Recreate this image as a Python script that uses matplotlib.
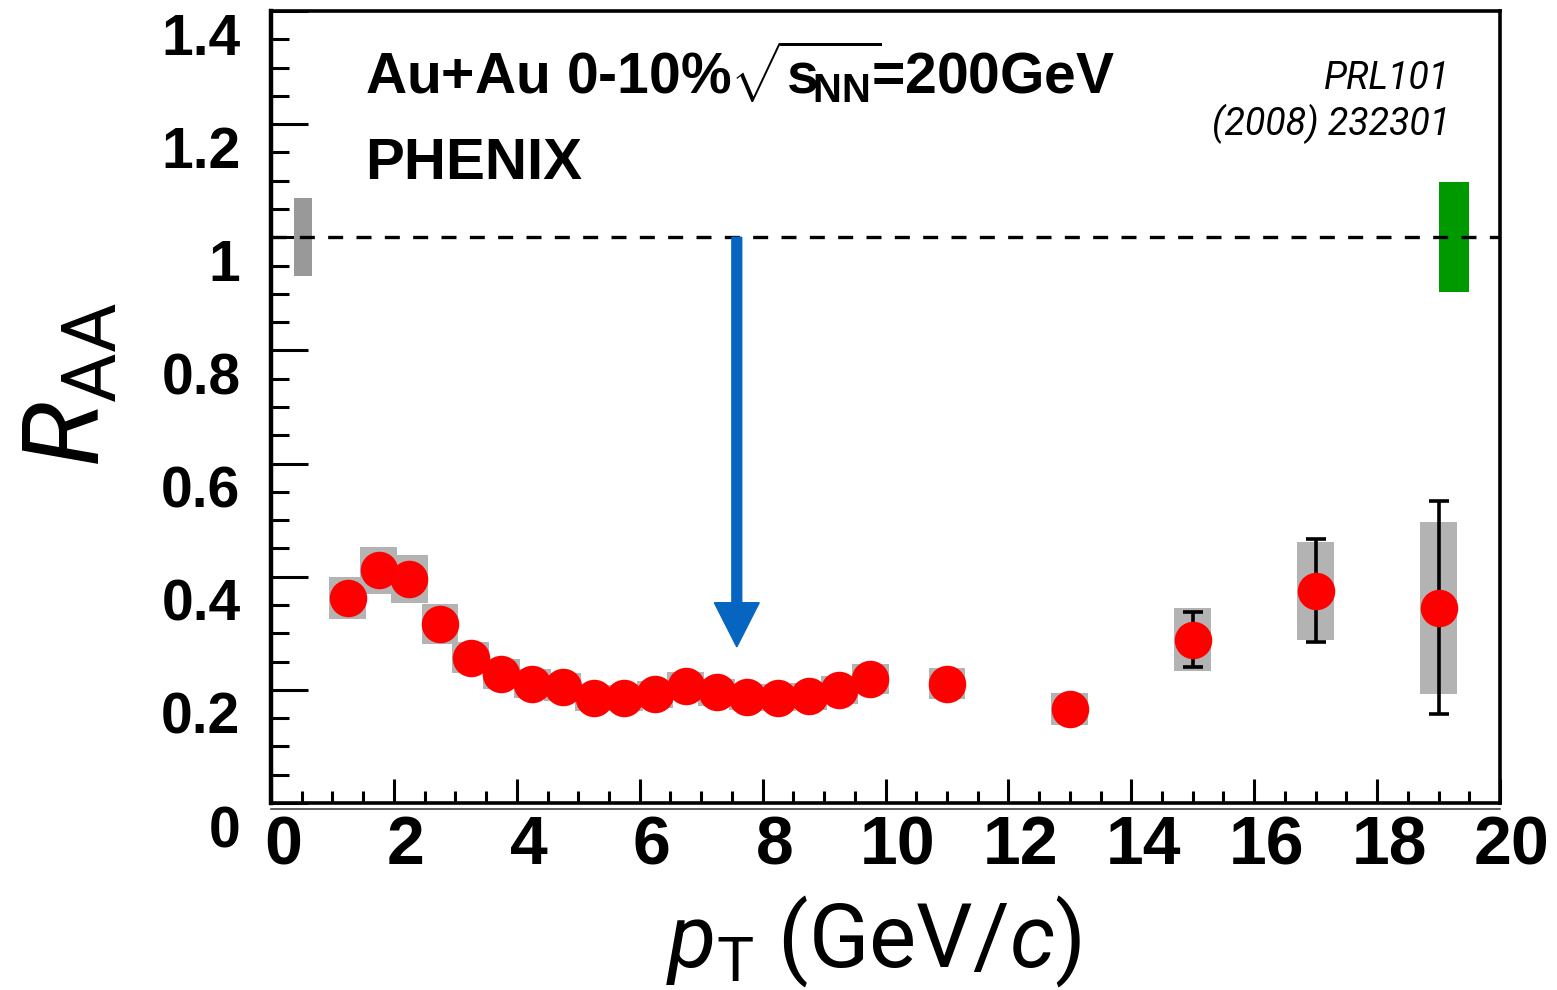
#!/usr/bin/env python3
"""
R_AA vs pT, PHENIX Au+Au 0-10%
"""

import matplotlib
matplotlib.use('Agg')
import matplotlib.pyplot as plt
import matplotlib.transforms as mtransforms
import numpy as np

# ---- data ----
pt = [1.25, 1.75, 2.25, 2.75, 3.25, 3.75, 4.25, 4.75, 5.25, 5.75, 6.25,
      6.75, 7.25, 7.75, 8.25, 8.75, 9.25, 9.75, 11, 13, 15, 17, 19]
raa = [0.362, 0.411, 0.396, 0.316, 0.257, 0.228, 0.211, 0.205, 0.185, 0.185,
       0.192, 0.207, 0.196, 0.188, 0.185, 0.189, 0.200, 0.219, 0.211, 0.166,
       0.289, 0.375, 0.345]
sys_err = [0.037, 0.042, 0.042, 0.035, 0.027, 0.027, 0.025, 0.025, 0.023,
           0.023, 0.024, 0.025, 0.024, 0.023, 0.023, 0.024, 0.025, 0.027,
           0.028, 0.029, 0.055, 0.086, 0.152]

stat_pt = [15, 17, 19]
stat_raa = [0.289, 0.375, 0.345]
stat_err = [0.049, 0.091, 0.188]

# normalisation boxes at R_AA = 1
glob_norm_x, glob_norm_lo, glob_norm_hi = 0.525, 0.931, 1.069
ncoll_x, ncoll_lo, ncoll_hi = 19.25, 0.903, 1.097

arrow_x, arrow_y0, arrow_y1 = 7.58, 1.0, 0.276

xticks = [0, 2, 4, 6, 8, 10, 12, 14, 16, 18, 20]
xtick_labels = ['0', '2', '4', '6', '8', '10', '12', '14', '16', '18', '20']
yticks = [0, 0.2, 0.4, 0.6, 0.8, 1.0, 1.2, 1.4]
ytick_labels = ['0', '0.2', '0.4', '0.6', '0.8', '1', '1.2', '1.4']

plt.rcParams['mathtext.fontset'] = 'custom'
plt.rcParams['mathtext.rm'] = 'Liberation Sans:bold'
plt.rcParams['mathtext.bf'] = 'Liberation Sans:bold'
plt.rcParams['mathtext.it'] = 'Roboto:italic'
plt.rcParams['mathtext.sf'] = 'Roboto'

W, H = 1557, 990
fig = plt.figure(figsize=(W / 100, H / 100), dpi=100)
ax = fig.add_axes([271 / W, (H - 803) / H, (1500 - 271) / W, (803 - 11) / H])

# systematic boxes
ax.bar(pt, 2 * np.array(sys_err), bottom=np.array(raa) - np.array(sys_err),
       width=0.6, color='#b3b3b3', zorder=2, linewidth=0)
ax.bar(glob_norm_x, glob_norm_hi - glob_norm_lo, bottom=glob_norm_lo,
       width=0.3, color='#999999', zorder=2, linewidth=0)
ax.bar(ncoll_x, ncoll_hi - ncoll_lo, bottom=ncoll_lo,
       width=0.5, color='#009900', zorder=2, linewidth=0)

# unity line
ax.axhline(1.0, color='black', lw=2.4, linestyle=(0, (4.5, 4.0)), zorder=3)

# statistical errors
ax.errorbar(stat_pt, stat_raa, yerr=stat_err, fmt='none', ecolor='black',
            elinewidth=2.6, capsize=7, capthick=2.6, zorder=4)

# data points
ax.plot(pt, raa, 'o', color='#ff0000', markersize=27, markeredgewidth=0,
        zorder=5)

# blue arrow
ax.arrow(arrow_x, arrow_y0, 0, arrow_y1 - arrow_y0, width=0.16,
         head_width=0.73, head_length=0.078, length_includes_head=True,
         color='#0565c0', zorder=6)

ax.set_xlim(0, 20)
ax.set_ylim(0, 1.4)
ax.set_xticks(xticks)
ax.set_xticklabels(xtick_labels)
ax.set_yticks(yticks)
ax.set_yticklabels(ytick_labels)
ax.set_xticks(np.arange(0, 20.01, 0.5), minor=True)
ax.set_yticks(np.arange(0, 1.401, 0.05), minor=True)

ax.tick_params(axis='x', which='major', direction='in', length=17, width=2.2,
               labelsize=49, pad=8, top=False)
ax.tick_params(axis='x', which='minor', direction='in', length=8.6, width=2.2,
               top=False)
ax.tick_params(axis='y', which='major', direction='in', length=26.5, width=2.2,
               labelsize=41, pad=22, right=False)
ax.tick_params(axis='y', which='minor', direction='in', length=13, width=2.2,
               right=False)

for lab in ax.get_xticklabels() + ax.get_yticklabels():
    lab.set_family('Liberation Sans')
    lab.set_fontweight('bold')

# the labels in the original sit a bit right / below their ticks
xoff = mtransforms.ScaledTranslation(0.12, 0, fig.dpi_scale_trans)
yoff = mtransforms.ScaledTranslation(0, -0.23, fig.dpi_scale_trans)
for lab in ax.get_xticklabels():
    lab.set_transform(lab.get_transform() + xoff)
for lab in ax.get_yticklabels():
    lab.set_transform(lab.get_transform() + yoff)

for side in ['top', 'right', 'bottom']:
    ax.spines[side].set_linewidth(2.6)
ax.spines['left'].set_linewidth(3.2)

# thin second line under the x axis
ax.plot([0, 1], [-0.0075, -0.0075], transform=ax.transAxes, color='#333333',
        lw=1.1, clip_on=False)

# texts
fig.text(365 / W, 1 - 94 / H,
         r'Au+Au 0-10%$\sqrt{\mathrm{s}_{\!\mathrm{NN}}}\!$=200GeV',
         family='Liberation Sans', fontweight='bold', fontsize=41,
         ha='left', va='baseline')
fig.text(365 / W, 1 - 179 / H, 'PHENIX', family='Liberation Sans',
         fontweight='bold', fontsize=42, ha='left', va='baseline')

fig.text(1450 / W, 1 - 89 / H, 'PRL101', family='Roboto',
         style='italic', fontsize=27, ha='right', va='baseline')
fig.text(1450 / W, 1 - 135 / H, '(2008) 232301', family='Roboto',
         style='italic', fontsize=27, ha='right', va='baseline')

fig.text(873 / W, 1 - 967 / H, r'$p_{\mathsf{T}}$ (GeV/$c$)', family='Roboto',
         fontsize=64, ha='center', va='baseline')
fig.text(100 / W, 1 - 385 / H, r'$R_{\mathsf{AA}}$', rotation=90,
         rotation_mode='anchor', fontsize=78, ha='center', va='baseline')

fig.savefig('out.png', dpi=100)
